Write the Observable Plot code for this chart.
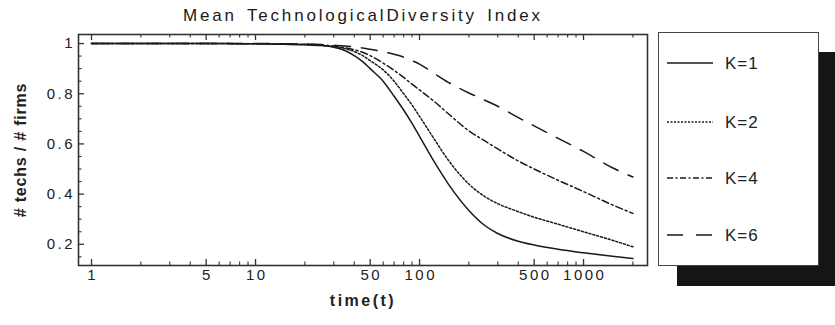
<!DOCTYPE html>
<html><head><meta charset="utf-8">
<script src="https://cdn.jsdelivr.net/npm/d3@7"></script>
<script src="https://cdn.jsdelivr.net/npm/@observablehq/plot@0.6"></script>
<style>
body{margin:0;background:#fff;}
#wrap{position:relative;width:835px;height:325px;overflow:hidden;font-family:"Liberation Sans",Arial,sans-serif;}
#title{position:absolute;left:0;width:726px;text-align:center;top:6px;font-size:17px;letter-spacing:2.8px;word-spacing:3px;color:#1a1a1a;}
#plot{position:absolute;left:0;top:0;}
#plot svg text{letter-spacing:2.5px;}
#legend{position:absolute;left:658px;top:32px;width:159px;height:232px;border:1.5px solid #444;background:#fff;box-shadow:19px 20px 0 #151515;}
</style>
</head><body>
<div id="wrap">
  <div id="plot"></div>
  <div id="title">Mean TechnologicalDiversity Index</div>
  <div id="legend"></div>
</div>
<script>
// Data
const times = [1, 2, 5, 10, 15, 20, 25, 30, 35, 40, 45, 50, 60, 70, 80, 90, 100, 120, 150, 200, 250, 300, 400, 500, 700, 1000, 1500, 2000];
const k1 = [1, 1, 1, 0.999, 0.997, 0.995, 0.992, 0.985, 0.972, 0.952, 0.928, 0.90, 0.85, 0.79, 0.735, 0.682, 0.63, 0.54, 0.44, 0.335, 0.275, 0.243, 0.212, 0.197, 0.18, 0.166, 0.152, 0.143];
const k2 = [1, 1, 1, 0.999, 0.998, 0.996, 0.993, 0.988, 0.98, 0.968, 0.952, 0.932, 0.895, 0.85, 0.80, 0.755, 0.71, 0.63, 0.535, 0.44, 0.39, 0.362, 0.33, 0.308, 0.28, 0.25, 0.216, 0.19];
const k4 = [1, 1, 1, 0.999, 0.998, 0.997, 0.994, 0.99, 0.983, 0.975, 0.965, 0.952, 0.922, 0.893, 0.865, 0.838, 0.815, 0.775, 0.72, 0.652, 0.612, 0.58, 0.532, 0.5, 0.455, 0.41, 0.357, 0.323];
const k6 = [1, 1, 1, 1, 0.999, 0.998, 0.996, 0.993, 0.99, 0.986, 0.982, 0.977, 0.967, 0.957, 0.946, 0.932, 0.918, 0.885, 0.845, 0.803, 0.774, 0.75, 0.705, 0.672, 0.622, 0.57, 0.505, 0.468];
const seriesNames = ["K=1", "K=2", "K=4", "K=6"];
const seriesDash = [null, "2,2", "7,3,2,3", "16,11"];
const legendDash = [null, "2,1.5", "6,2.5,2,2.5", "16,13"];

const xMajor = [1, 5, 10, 50, 100, 500, 1000];
const xMinor = [2, 3, 4, 6, 7, 8, 9, 20, 30, 40, 60, 70, 80, 90, 200, 300, 400, 600, 700, 800, 900, 2000];
const yMajor = [0.2, 0.4, 0.6, 0.8, 1];
const yMinor = [0.15, 0.25, 0.3, 0.35, 0.45, 0.5, 0.55, 0.65, 0.7, 0.75, 0.85, 0.9, 0.95];

const xLabel = "time(t)";
const yLabel = "# techs / # firms";

const seriesValues = [k1, k2, k4, k6];
const tables = seriesValues.map(vals => times.map((t, i) => ({t, v: vals[i]})));

const W = 835, H = 325, mL = 78, mR = 188, mT = 34, mB = 60;
const iw = W - mL - mR, ih = H - mT - mB;
const ink = "#1a1a1a";

const marks = [];
tables.forEach((tab, i) => {
  marks.push(Plot.line(tab, {x: "t", y: "v", stroke: ink, strokeWidth: 1.5, curve: "monotone-x",
    strokeDasharray: seriesDash[i] || undefined}));
});
// inward ticks (bottom, top, left)
marks.push(Plot.ruleX(xMajor, {x: d => d, insetTop: ih - 6, stroke: "#333", strokeWidth: 1.3}));
marks.push(Plot.ruleX(xMinor, {x: d => d, insetTop: ih - 3.5, stroke: "#333", strokeWidth: 1.1}));
marks.push(Plot.ruleX(xMajor, {x: d => d, insetBottom: ih - 6, stroke: "#333", strokeWidth: 1.3}));
marks.push(Plot.ruleX(xMinor, {x: d => d, insetBottom: ih - 3.5, stroke: "#333", strokeWidth: 1.1}));
marks.push(Plot.ruleY(yMajor, {y: d => d, insetRight: iw - 6, stroke: "#333", strokeWidth: 1.3}));
marks.push(Plot.ruleY(yMinor, {y: d => d, insetRight: iw - 3.5, stroke: "#333", strokeWidth: 1.1}));
marks.push(Plot.frame({stroke: "#333", strokeWidth: 1.6}));
// tick labels
marks.push(Plot.text(xMajor, {x: d => d, frameAnchor: "bottom", dy: 14, dx: 1.2, text: d => String(d), fontSize: 15, fill: "#222"}));
marks.push(Plot.text(yMajor, {y: d => d, frameAnchor: "left", textAnchor: "end", dx: -3.5, text: d => String(d), fontSize: 15, fill: "#222"}));
// axis titles
marks.push(Plot.text([xLabel], {text: d => d, frameAnchor: "bottom", dy: 40, fontSize: 16, fontWeight: "bold", fill: "#222"}));
marks.push(Plot.text([yLabel], {text: d => d, frameAnchor: "left", textAnchor: "middle", rotate: -90, dx: -58, fontSize: 16, fontWeight: "bold", fill: "#222"}));

const chart = Plot.plot({
  width: W, height: H,
  marginLeft: mL, marginRight: mR, marginTop: mT, marginBottom: mB,
  style: {fontFamily: "'Liberation Sans', Arial, sans-serif", background: "transparent", overflow: "visible"},
  x: {type: "log", domain: [0.833, 2455], axis: null},
  y: {domain: [0.1155, 1.036], axis: null},
  marks
});
document.getElementById("plot").appendChild(chart);
d3.select(chart).selectAll("text").filter(function() { return this.textContent === yLabel; })
  .style("letter-spacing", "0.8px");

// legend
const lsvg = d3.select("#legend").append("svg").attr("width", 159).attr("height", 232)
  .style("font-family", "'Liberation Sans', Arial, sans-serif");
const rowY = [30, 89, 145, 202];
seriesNames.forEach((name, i) => {
  lsvg.append("line").attr("x1", 8).attr("x2", 54).attr("y1", rowY[i]).attr("y2", rowY[i])
    .attr("stroke", ink).attr("stroke-width", 1.5)
    .attr("stroke-dasharray", legendDash[i]);
  lsvg.append("text").attr("x", 66).attr("y", rowY[i]).attr("dy", "0.36em")
    .attr("font-size", 17).attr("letter-spacing", "1px").attr("fill", "#222").text(name);
});
</script>
</body></html>
